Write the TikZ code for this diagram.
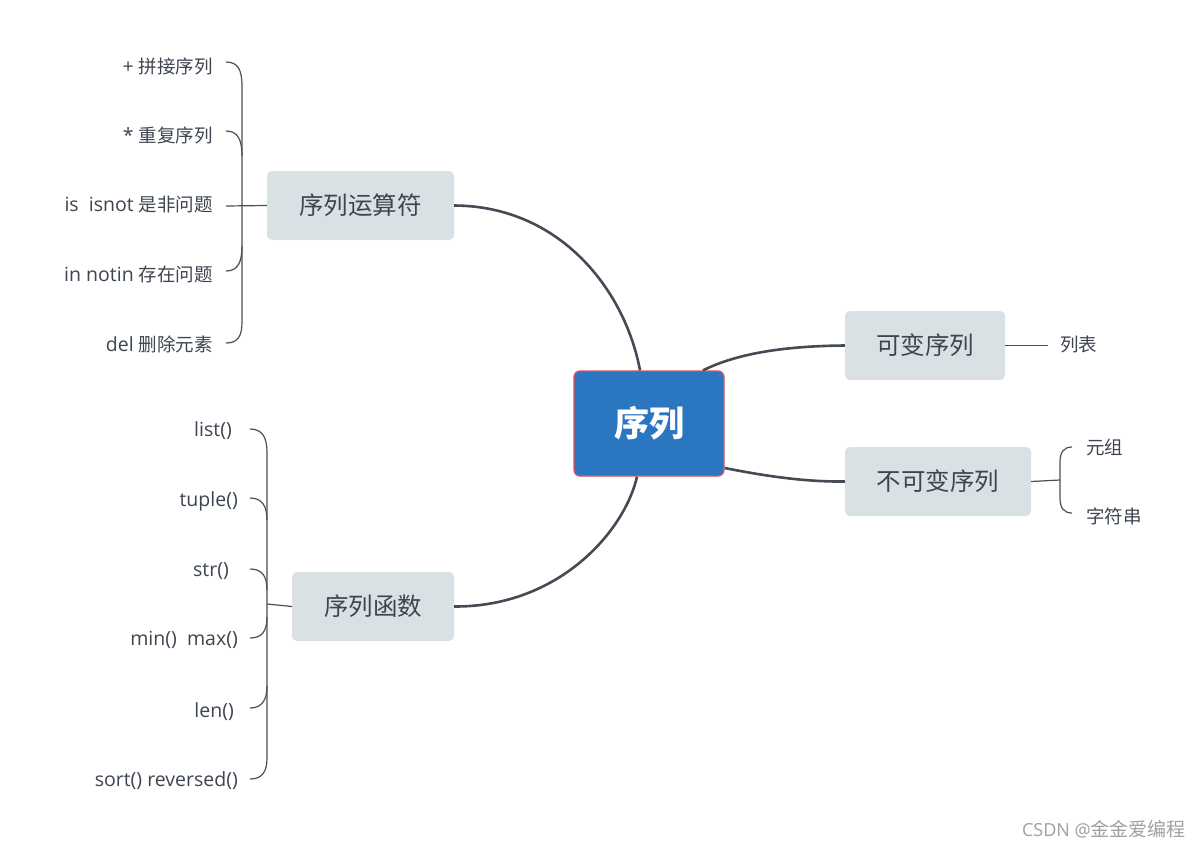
\documentclass[tikz,border=0pt]{standalone}
\usepackage{fontspec}
\setmainfont{Open Sans}
\newfontfamily\cjk{Noto Sans CJK SC}
\usetikzlibrary{calc}
\definecolor{txt}{HTML}{3D4550}
\definecolor{boxg}{HTML}{DAE1E4}
\definecolor{conn}{HTML}{454B54}
\definecolor{brc}{HTML}{4A5059}
\definecolor{cblue}{HTML}{2B76C0}
\definecolor{cred}{HTML}{E0505E}
\definecolor{wm}{HTML}{A0A0A0}
\tikzset{
  topic/.style={fill=boxg, rounded corners=5pt, minimum height=69pt, inner sep=0pt, text=txt, font=\cjk\fontsize{24.5}{26}\selectfont},
  item/.style={text=txt, inner sep=0pt, anchor=east, font=\fontsize{19.5}{20}\selectfont},
  itemw/.style={text=txt, inner sep=0pt, anchor=west, font=\cjk\fontsize{18.5}{20}\selectfont},
  mainconn/.style={draw=conn, line width=2.6pt},
  brace/.style={draw=brc, line width=1.2pt},
}
\newcommand{\zh}[1]{{\cjk\fontsize{18.5}{20}\selectfont #1}}
\begin{document}
\begin{tikzpicture}[x=1pt,y=-1pt]
\useasboundingbox[fill=white] (0,0) rectangle (1201,848);

% central node
\node[fill=cblue, draw=cred, line width=1.3pt, rounded corners=6pt, minimum width=150pt, minimum height=105pt, inner sep=0pt, text=white, font=\cjk\bfseries\fontsize{35}{36}\selectfont] (c) at (649,423.5) {序列};

% topics
\node[topic, minimum width=187pt] (ops) at (360.5,205.5) {序列运算符};
\node[topic, minimum width=162pt] (func) at (373,606.5) {序列函数};
\node[topic, minimum width=160pt] (mut) at (925,345.5) {可变序列};
\node[topic, minimum width=186pt] (imm) at (938,481.5) {不可变序列};

% main connectors
\draw[mainconn] ([xshift=-9pt]c.north) .. controls (625,290) and (560,206) .. (ops.east);
\draw[mainconn] ([xshift=-12pt]c.south) .. controls (625,530) and (560,607) .. (func.east);
\draw[mainconn] ([xshift=54pt]c.north) .. controls (740,352) and (790,346) .. (mut.west);
\draw[mainconn] ([yshift=-44.5pt]c.east) .. controls (765,476) and (805,482) .. (imm.west);

% operator items
\node[item] (o1) at (213,66) {+ \zh{拼接序列}};
\node[item] (o2) at (213,135) {* \zh{重复序列}};
\node[item] (o3) at (213,205) {is\ \ isnot \zh{是非问题}};
\node[item] (o4) at (213,274) {in notin \zh{存在问题}};
\node[item] (o5) at (213,344) {del \zh{删除元素}};
\draw[brace] (226,62) .. controls (238,62) and (242,70) .. (242,86) -- (242,322) .. controls (242,336) and (238,343) .. (226,343);
\draw[brace] (226,131) .. controls (238,131) and (242,140) .. (242,156);
\draw[brace] (226,271) .. controls (238,271) and (242,262) .. (242,246);
\draw[brace] (226,206) -- (ops.west);

% function items
\node[item] (f1) at (232,431) {list()};
\node[item] (f2) at (238,501) {tuple()};
\node[item] (f3) at (229,571) {str()};
\node[item] (f4) at (238,640) {min()\ \ max()};
\node[item] (f5) at (234,712) {len()};
\node[item] (f6) at (238,781) {sort() reversed()};
\draw[brace] (250,429) .. controls (262,429) and (267,437) .. (267,452) -- (267,758) .. controls (267,772) and (262,779) .. (250,779);
\draw[brace] (250,498) .. controls (262,498) and (267,506) .. (267,520);
\draw[brace] (250,569) .. controls (262,569) and (267,576) .. (267,590);
\draw[brace] (250,638) .. controls (262,638) and (267,631) .. (267,617);
\draw[brace] (250,708) .. controls (262,708) and (267,700) .. (267,686);
\draw[brace] (267,604) -- (func.west);

% right side
\node[itemw] (m1) at (1060,345) {列表};
\draw[brace] (mut.east) -- (1048,345.5);
\node[itemw] (i1) at (1086,447) {元组};
\node[itemw] (i2) at (1086,516) {字符串};
\draw[brace] (imm.east) -- (1060,480);
\draw[brace] (1072,447) .. controls (1064,447) and (1060,452) .. (1060,462) -- (1060,498) .. controls (1060,508) and (1064,513) .. (1072,513);

% watermark
\node[anchor=east, inner sep=0pt, text=wm, font=\fontsize{18}{18}\selectfont] (wmk) at (1186,829) {CSDN @{\cjk\fontsize{19}{18}\selectfont 金金爱编程}};
\end{tikzpicture}
\end{document}
